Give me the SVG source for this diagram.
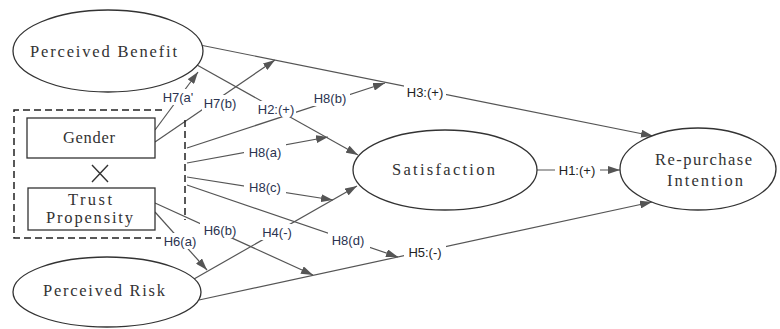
<svg xmlns="http://www.w3.org/2000/svg" width="780" height="329" viewBox="0 0 780 329">
<defs>
<marker id="arr" markerUnits="userSpaceOnUse" markerWidth="13" markerHeight="8" refX="12" refY="4" orient="auto">
<path d="M0,0 L12,4 L0,8 z" fill="#555"/>
</marker>
<style>
.node{fill:#fff;stroke:#333;stroke-width:1.3}
.nt{font-family:"Liberation Serif","Times New Roman",serif;font-size:16.5px;fill:#333;text-anchor:middle}
.c{stroke:#555;stroke-width:1.2;fill:none}
.a{marker-end:url(#arr)}
.lb{fill:#fff}
.lt{font-family:"Liberation Sans",Arial,sans-serif;font-size:13px;fill:#2b3350;text-anchor:middle}
.lk{fill:#222}
</style>
</defs>
<rect width="780" height="329" fill="#fff"/>
<g id="connectors">
<line class="c a" x1="200" y1="45" x2="653" y2="136"/>
<line class="c a" x1="197" y1="65" x2="358" y2="155"/>
<line class="c a" x1="155" y1="130" x2="198" y2="72"/>
<line class="c a" x1="155" y1="142" x2="275" y2="60"/>
<line class="c a" x1="187" y1="148" x2="385" y2="83"/>
<line class="c a" x1="187" y1="163" x2="328" y2="137"/>
<line class="c a" x1="187" y1="177" x2="333" y2="200"/>
<line class="c a" x1="187" y1="185" x2="398" y2="257"/>
<line class="c a" x1="155" y1="203" x2="313" y2="275"/>
<line class="c a" x1="155" y1="212" x2="207" y2="270"/>
<line class="c a" x1="194" y1="279" x2="357" y2="186"/>
<line class="c a" x1="199" y1="300" x2="652" y2="202"/>
<line class="c a" x1="537" y1="170" x2="620" y2="170"/>
</g>
<g id="labels">
<rect class="lb" x="162" y="89" width="33" height="16"/><text class="lt" x="178" y="101.5">H7(a'</text>
<rect class="lb" x="202" y="95" width="37" height="16"/><text class="lt" x="220" y="107.5">H7(b)</text>
<rect class="lb" x="256" y="101" width="40" height="16"/><text class="lt" x="276" y="113.5">H2:(+)</text>
<rect class="lb" x="310" y="90" width="40" height="16"/><text class="lt" x="330" y="102.5">H8(b)</text>
<rect class="lb" x="404" y="84" width="42" height="16"/><text class="lt lk" x="425" y="96.5">H3:(+)</text>
<rect class="lb" x="244" y="144" width="42" height="16"/><text class="lt" x="265" y="156.5">H8(a)</text>
<rect class="lb" x="244" y="179" width="42" height="16"/><text class="lt" x="265" y="191.5">H8(c)</text>
<rect class="lb" x="200" y="222" width="40" height="16"/><text class="lt" x="220" y="234.5">H6(b)</text>
<rect class="lb" x="259" y="224" width="36" height="16"/><text class="lt" x="277" y="236.5">H4(-)</text>
<rect class="lb" x="328" y="232" width="42" height="16"/><text class="lt" x="348" y="244.5">H8(d)</text>
<rect class="lb" x="404" y="244" width="42" height="16"/><text class="lt lk" x="425" y="256.5">H5:(-)</text>
<rect class="lb" x="555" y="162" width="45" height="16"/><text class="lt lk" x="577" y="174.5">H1:(+)</text>
</g>
<g id="moderators">
<path d="M162,110 H14 V238 H163 M185,120 V220" fill="none" stroke="#222" stroke-width="1.5" stroke-dasharray="7,4"/>
<rect class="lb" x="161" y="233" width="38" height="16"/>
<text class="lt" x="180" y="245.5">H6(a)</text>
</g>
<g id="gender">
<rect class="node" x="27" y="118" width="128" height="40"/>
<text class="nt" x="89" y="143" textLength="52" lengthAdjust="spacing">Gender</text>
</g>
<g id="interaction">
<path d="M92,165 L108,182 M108,165 L92,182" stroke="#333" stroke-width="1.4" fill="none"/>
</g>
<g id="trust">
<rect class="node" x="28" y="188" width="127" height="42"/>
<text class="nt" x="90" y="205" textLength="44" lengthAdjust="spacing">Trust</text>
<text class="nt" x="89.5" y="222.5" textLength="87" lengthAdjust="spacing">Propensity</text>
</g>
<g id="benefit">
<ellipse class="node" cx="108" cy="51" rx="95" ry="41"/>
<text class="nt" x="103.5" y="57" textLength="147" lengthAdjust="spacing">Perceived Benefit</text>
</g>
<g id="risk">
<ellipse class="node" cx="107" cy="292" rx="94" ry="35"/>
<text class="nt" x="104" y="296" textLength="122" lengthAdjust="spacing">Perceived Risk</text>
</g>
<g id="satisfaction">
<ellipse class="node" cx="445" cy="170" rx="92" ry="40"/>
<text class="nt" x="443.5" y="175" textLength="103" lengthAdjust="spacing">Satisfaction</text>
</g>
<g id="repurchase">
<ellipse class="node" cx="698" cy="169" rx="78" ry="41"/>
<text class="nt" x="703.5" y="165" textLength="97" lengthAdjust="spacing">Re-purchase</text>
<text class="nt" x="705" y="185.5" textLength="76" lengthAdjust="spacing">Intention</text>
</g>
</svg>
